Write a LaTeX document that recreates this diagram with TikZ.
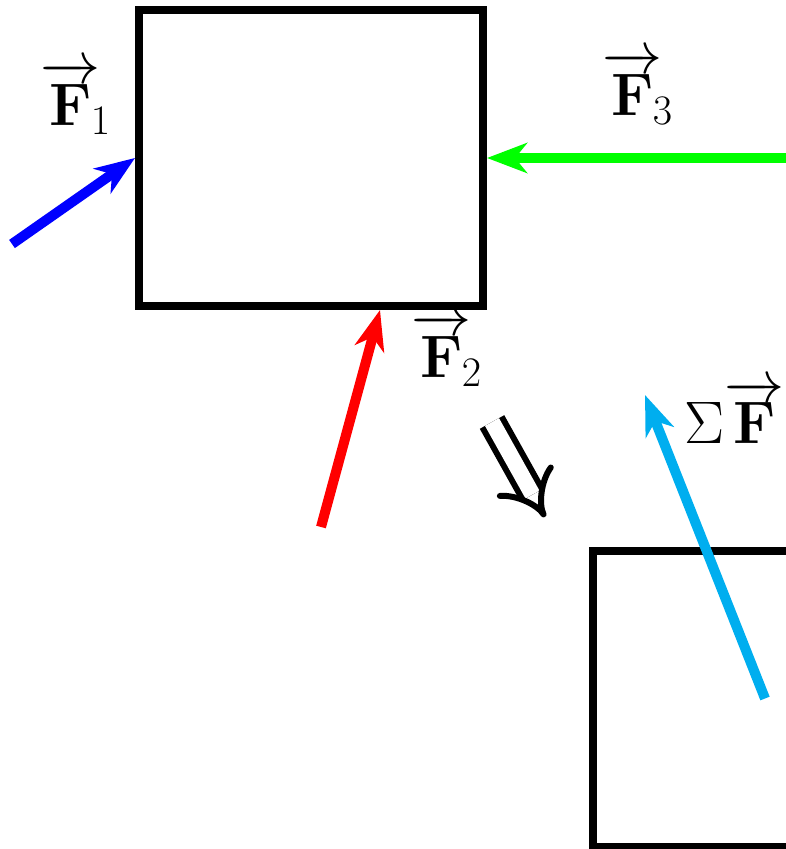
\RequirePackage{fix-cm}
\documentclass[tikz,border=0pt]{standalone}
\usepackage{amsmath,amssymb}
\usepackage{tikz}
\usetikzlibrary{arrows.meta, calc}
\definecolor{sumblue}{RGB}{0,174,239}

\begin{document}
\begin{tikzpicture}[
    x=0.5pt, y=-0.5pt,
    font=\fontsize{30}{36}\selectfont,
    body/.style={draw=black, line width=4pt, minimum width=172pt,
                 minimum height=148pt, inner sep=0pt},
    force/.style={line width=5pt, -{Stealth[length=20pt, width=15pt, inset=6pt]}},
    lbl/.style={inner sep=0pt},
    thus/.style={double, line width=3pt, double distance=8pt, -Implies}
  ]
    \useasboundingbox (0,0) rectangle (785,849);

    \node[body] (box1) at (311,158) {};
    \node[body] (box2) at (765,698.5) {};

    \coordinate (tail1) at (12,244);
    \coordinate (tail2) at (321,527);
    \coordinate (tail3) at (830,158);
    \coordinate (tipsum) at (645,395);

    \draw[force, blue] (tail1) -- (box1.west);
    \draw[force, red] (tail2) -- ($(box1.south)+(69,0)$);
    \draw[force, green] (tail3) -- (box1.east);
    \draw[force, sumblue] (box2.center) -- (tipsum);

    \node[lbl] (f1) at (76,98) {$\overrightarrow{\mathbf{F}}\!_1$};
    \node[lbl] (f2) at (447,350) {$\overrightarrow{\mathbf{F}}\!_2$};
    \node[lbl] (f3) at (638,88) {$\overrightarrow{\mathbf{F}}\!_3$};
    \node[lbl, anchor=west] (fsum) at (684,412) {$\Sigma\overrightarrow{\mathbf{F}}$};

    % so the sum acts on the body
    \coordinate (then1) at (492,422);
    \coordinate (then2) at (545,517);
    \draw[thus] (then1) -- (then2);
  \end{tikzpicture}
\end{document}
